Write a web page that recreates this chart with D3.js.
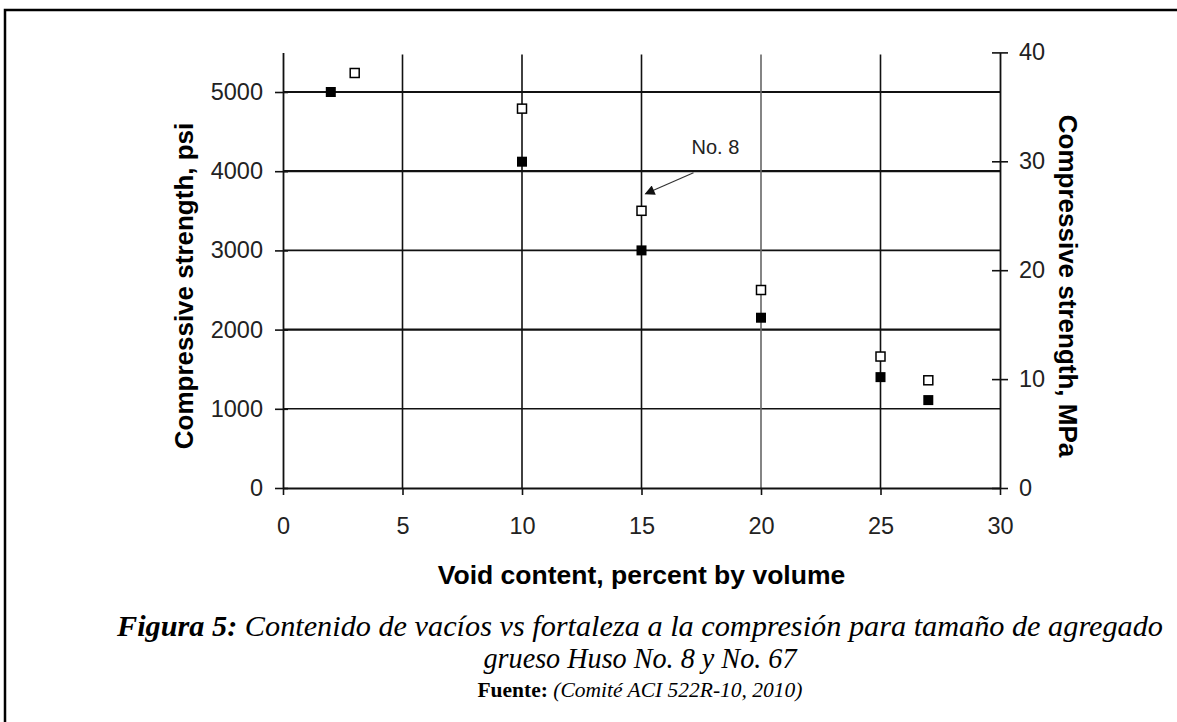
<!DOCTYPE html>
<html>
<head>
<meta charset="utf-8">
<script src="https://cdn.jsdelivr.net/npm/d3@7"></script>
<style>
  html, body { margin: 0; padding: 0; background: #fff; }
  svg { display: block; }
  .sans { font-family: "Liberation Sans", Arial, sans-serif; }
  .serif { font-family: "Liberation Serif", "Times New Roman", serif; }
</style>
</head>
<body>
<svg id="fig" width="1177" height="722"></svg>
<script>
// Void content (% by volume) vs compressive strength (psi)
const voidFilled = [2, 10, 15, 20, 25, 27];
const psiFilled  = [5000, 4120, 3000, 2150, 1400, 1110];
const voidOpen   = [3, 10, 15, 20, 25, 27];
const psiOpen    = [5240, 4790, 3500, 2500, 1660, 1360];

const xTicks    = [0, 5, 10, 15, 20, 25, 30];
const psiTicks  = [0, 1000, 2000, 3000, 4000, 5000];
const mpaTicks  = [0, 10, 20, 30, 40];
const annotation = { label: "No. 8", voidPct: 15, psi: 3500 };

const svg = d3.select("#fig");
svg.append("rect").attr("width", 1177).attr("height", 722).attr("fill", "#fff");

// page frame (continues past the right and bottom edges)
svg.append("rect")
  .attr("x", 5).attr("y", 10).attr("width", 1200).attr("height", 800)
  .attr("fill", "none").attr("stroke", "#000").attr("stroke-width", 2.5);

const x = d3.scaleLinear().domain([0, 30]).range([283, 1000]);
const yPsi = d3.scaleLinear().domain([0, 5500]).range([488, 52.4]);
const yMpa = d3.scaleLinear().domain([0, 40]).range([488, 52.4]);

const g = svg.append("g");

// grid
g.selectAll("line.hgrid").data(psiTicks.filter(d => d > 0)).join("line")
  .attr("x1", x(0)).attr("x2", x(30))
  .attr("y1", d => yPsi(d)).attr("y2", d => yPsi(d))
  .attr("stroke", "#111")
  .attr("stroke-width", d => (d % 2000 === 0 || d === 5000) ? 2.2 : 1.6);

g.selectAll("line.vgrid").data(xTicks.filter(d => d > 0 && d < 30)).join("line")
  .attr("x1", d => x(d)).attr("x2", d => x(d))
  .attr("y1", yPsi(0)).attr("y2", yPsi.range()[1] + 2)
  .attr("stroke", d => d === 20 ? "#666" : "#111")
  .attr("stroke-width", 1.6);

// axes
const fontAxis = 23.5;
const fmt = d3.format("d");
const axL = g.append("g").attr("transform", `translate(${x(0)},0)`)
  .call(d3.axisLeft(yPsi).tickValues(psiTicks).tickFormat(fmt).tickSize(8).tickSizeOuter(0).tickPadding(12));
const axR = g.append("g").attr("transform", `translate(${x(30)},0)`)
  .call(d3.axisRight(yMpa).tickValues(mpaTicks).tickFormat(fmt).tickSize(8).tickSizeOuter(0).tickPadding(11));
const axB = g.append("g").attr("transform", `translate(0,${yPsi(0)})`)
  .call(d3.axisBottom(x).tickValues(xTicks).tickFormat(fmt).tickSize(7).tickSizeOuter(0).tickPadding(22));

[axL, axR, axB].forEach(a => {
  a.select(".domain").attr("stroke", "#111").attr("stroke-width", 1.8);
  a.selectAll(".tick line").attr("stroke", "#111").attr("stroke-width", 1.6);
  a.selectAll(".tick text").attr("class", "sans").attr("font-size", fontAxis).attr("fill", "#222");
});
// ticks cross the axis lines
axL.selectAll(".tick line").attr("x1", 5);
axR.selectAll(".tick line").attr("x1", -8);

// markers
const sFill = 10, sOpen = 9;
g.selectAll("rect.filled").data(voidFilled.map((v, i) => [v, psiFilled[i]])).join("rect")
  .attr("x", d => x(d[0]) - sFill / 2).attr("y", d => yPsi(d[1]) - sFill / 2)
  .attr("width", sFill).attr("height", sFill).attr("fill", "#000");
g.selectAll("rect.open").data(voidOpen.map((v, i) => [v, psiOpen[i]])).join("rect")
  .attr("x", d => x(d[0]) - sOpen / 2).attr("y", d => yPsi(d[1]) - sOpen / 2)
  .attr("width", sOpen).attr("height", sOpen)
  .attr("fill", "#fff").attr("stroke", "#000").attr("stroke-width", 1.5);

// "No. 8" callout with arrow
svg.append("defs").append("marker")
  .attr("id", "arrowhead").attr("viewBox", "0 0 10 10")
  .attr("refX", 9).attr("refY", 5).attr("markerWidth", 12).attr("markerHeight", 10)
  .attr("markerUnits", "userSpaceOnUse").attr("orient", "auto")
  .append("path").attr("d", "M0,0 L10,5 L0,10 Z").attr("fill", "#111");

const ax = x(annotation.voidPct), ay = yPsi(annotation.psi);
g.append("line")
  .attr("x1", ax + 52).attr("y1", ay - 38)
  .attr("x2", ax + 4).attr("y2", ay - 17)
  .attr("stroke", "#333").attr("stroke-width", 1.2)
  .attr("marker-end", "url(#arrowhead)");
g.append("text").attr("class", "sans")
  .attr("x", ax + 50).attr("y", ay - 57)
  .attr("font-size", 20).attr("fill", "#222")
  .text(annotation.label);

// axis titles
const fontTitle = 26;
const titleY = 286;
svg.append("text").attr("class", "sans")
  .attr("transform", `translate(193,${titleY}) rotate(-90)`)
  .attr("text-anchor", "middle").attr("font-size", fontTitle).attr("font-weight", "bold")
  .text("Compressive strength, psi");
svg.append("text").attr("class", "sans")
  .attr("transform", `translate(1059,${titleY}) rotate(90)`)
  .attr("text-anchor", "middle").attr("font-size", fontTitle).attr("font-weight", "bold")
  .text("Compressive strength, MPa");
svg.append("text").attr("class", "sans")
  .attr("x", (x(0) + x(30)) / 2 + 0).attr("y", 584)
  .attr("text-anchor", "middle").attr("font-size", 26.5).attr("font-weight", "bold")
  .text("Void content, percent by volume");

// caption
const cx = 640;
const cap1 = svg.append("text").attr("class", "serif")
  .attr("x", cx).attr("y", 636).attr("text-anchor", "middle").attr("font-size", 29)
  .attr("textLength", 1046).attr("lengthAdjust", "spacingAndGlyphs");
cap1.append("tspan").attr("font-weight", "bold").attr("font-style", "italic").text("Figura 5:");
cap1.append("tspan").attr("font-style", "italic")
  .text(" Contenido de vacíos vs fortaleza a la compresión para tamaño de agregado");
svg.append("text").attr("class", "serif")
  .attr("x", cx).attr("y", 668).attr("text-anchor", "middle")
  .attr("font-size", 29).attr("font-style", "italic")
  .attr("textLength", 313).attr("lengthAdjust", "spacingAndGlyphs")
  .text("grueso Huso No. 8 y No. 67");
const cap3 = svg.append("text").attr("class", "serif")
  .attr("x", cx).attr("y", 697).attr("text-anchor", "middle").attr("font-size", 21.5);
cap3.append("tspan").attr("font-weight", "bold").text("Fuente:");
cap3.append("tspan").attr("font-style", "italic").text(" (Comité ACI 522R-10, 2010)");
</script>
</body>
</html>
